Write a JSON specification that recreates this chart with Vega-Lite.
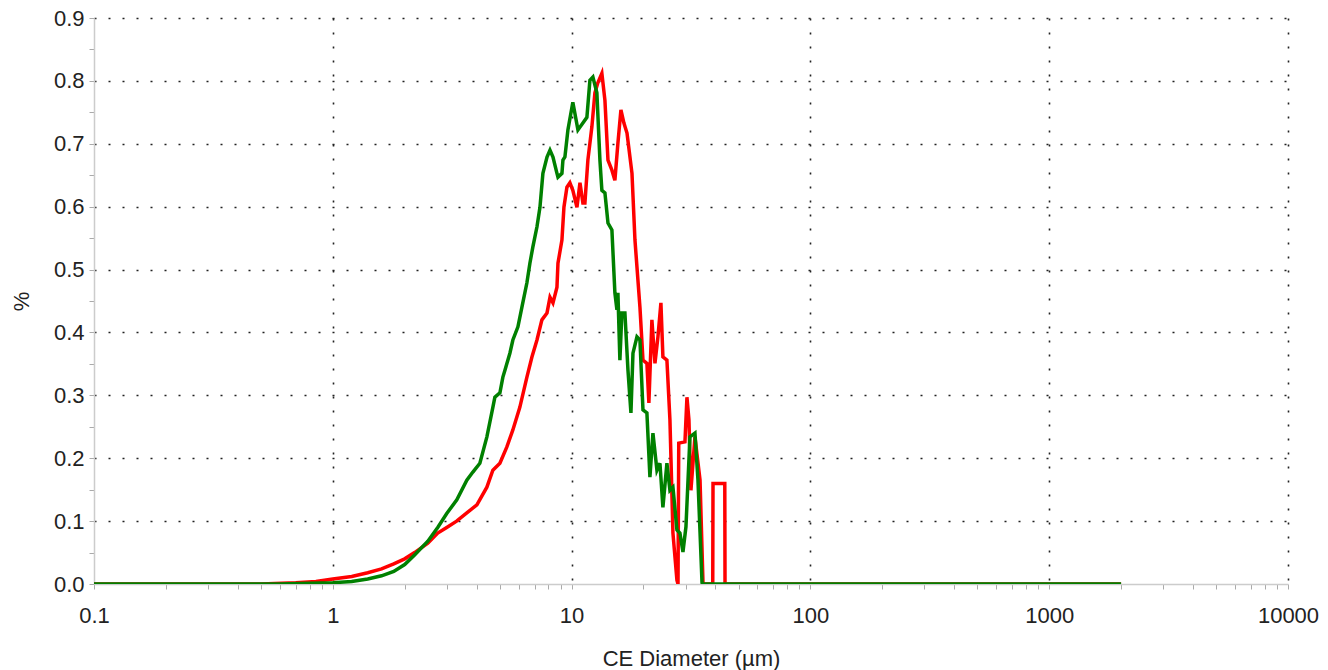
{
  "$schema": "https://vega.github.io/schema/vega-lite/v6.json",
  "width": 1194,
  "height": 566,
  "autosize": {"type": "none"},
  "padding": {"left": 94, "top": 18, "right": 40, "bottom": 86},
  "background": "white",
  "config": {
    "view": {"stroke": null},
    "font": "Liberation Sans"
  },
  "datasets": {
    "green": [
      {"d":0.1,"p":0},{"d":0.6,"p":0},{"d":0.8,"p":0.001},{"d":1.0,"p":0.002},{"d":1.2,"p":0.004},{"d":1.4,"p":0.008},{"d":1.6,"p":0.013},{"d":1.8,"p":0.02},{"d":2.0,"p":0.031},{"d":2.2,"p":0.046},{"d":2.5,"p":0.068},{"d":2.75,"p":0.09},{"d":3.0,"p":0.112},{"d":3.306,"p":0.134},{"d":3.641,"p":0.165},{"d":3.86,"p":0.178},{"d":4.129,"p":0.192},{"d":4.418,"p":0.234},{"d":4.68,"p":0.281},{"d":4.772,"p":0.297},{"d":5.009,"p":0.304},{"d":5.155,"p":0.329},{"d":5.258,"p":0.34},{"d":5.515,"p":0.367},{"d":5.676,"p":0.388},{"d":5.96,"p":0.409},{"d":6.191,"p":0.44},{"d":6.499,"p":0.479},{"d":6.689,"p":0.51},{"d":6.884,"p":0.536},{"d":7.161,"p":0.568},{"d":7.37,"p":0.599},{"d":7.583,"p":0.653},{"d":7.889,"p":0.679},{"d":8.119,"p":0.69},{"d":8.356,"p":0.679},{"d":8.684,"p":0.653},{"d":8.768,"p":0.647},{"d":9.11,"p":0.653},{"d":9.198,"p":0.674},{"d":9.376,"p":0.679},{"d":9.65,"p":0.722},{"d":10.12,"p":0.766},{"d":10.63,"p":0.722},{"d":11.15,"p":0.733},{"d":11.59,"p":0.742},{"d":11.93,"p":0.801},{"d":12.28,"p":0.806},{"d":12.76,"p":0.781},{"d":13.14,"p":0.674},{"d":13.39,"p":0.626},{"d":13.79,"p":0.622},{"d":14.2,"p":0.574},{"d":14.75,"p":0.563},{"d":15.18,"p":0.463},{"d":15.48,"p":0.436},{"d":15.63,"p":0.463},{"d":15.93,"p":0.356},{"d":16.24,"p":0.431},{"d":16.72,"p":0.431},{"d":17.22,"p":0.34},{"d":17.72,"p":0.272},{"d":18.07,"p":0.367},{"d":18.78,"p":0.393},{"d":19.33,"p":0.388},{"d":19.9,"p":0.277},{"d":20.67,"p":0.272},{"d":21.28,"p":0.17},{"d":21.91,"p":0.24},{"d":22.77,"p":0.181},{"d":23.44,"p":0.192},{"d":24.12,"p":0.122},{"d":25.07,"p":0.192},{"d":25.81,"p":0.149},{"d":26.57,"p":0.154},{"d":27.61,"p":0.086},{"d":28.42,"p":0.081},{"d":29.26,"p":0.051},{"d":30.12,"p":0.091},{"d":31.3,"p":0.234},{"d":32.85,"p":0.24},{"d":33.82,"p":0.165},{"d":35.17,"p":0.002},{"d":35.51,"p":0},{"d":2000,"p":0}
    ],
    "red": [
      {"d":0.1,"p":0},{"d":0.5,"p":0},{"d":0.7,"p":0.002},{"d":0.85,"p":0.004},{"d":1.0,"p":0.008},{"d":1.2,"p":0.012},{"d":1.4,"p":0.018},{"d":1.6,"p":0.024},{"d":1.8,"p":0.032},{"d":2.0,"p":0.04},{"d":2.2,"p":0.05},{"d":2.5,"p":0.065},{"d":2.75,"p":0.081},{"d":3.0,"p":0.09},{"d":3.3,"p":0.1},{"d":3.641,"p":0.113},{"d":4.012,"p":0.126},{"d":4.418,"p":0.154},{"d":4.68,"p":0.181},{"d":5.009,"p":0.192},{"d":5.357,"p":0.218},{"d":5.676,"p":0.245},{"d":6.07,"p":0.281},{"d":6.499,"p":0.329},{"d":6.821,"p":0.361},{"d":7.161,"p":0.388},{"d":7.51,"p":0.42},{"d":7.889,"p":0.431},{"d":8.119,"p":0.456},{"d":8.356,"p":0.447},{"d":8.684,"p":0.472},{"d":8.768,"p":0.51},{"d":9.11,"p":0.547},{"d":9.287,"p":0.599},{"d":9.558,"p":0.631},{"d":9.837,"p":0.638},{"d":10.12,"p":0.626},{"d":10.53,"p":0.599},{"d":10.84,"p":0.638},{"d":11.15,"p":0.606},{"d":11.37,"p":0.606},{"d":11.7,"p":0.674},{"d":12.16,"p":0.727},{"d":12.52,"p":0.781},{"d":12.88,"p":0.797},{"d":13.39,"p":0.812},{"d":13.79,"p":0.769},{"d":14.2,"p":0.674},{"d":14.75,"p":0.658},{"d":15.18,"p":0.642},{"d":15.63,"p":0.701},{"d":16.09,"p":0.754},{"d":16.56,"p":0.733},{"d":17.06,"p":0.717},{"d":17.9,"p":0.653},{"d":18.42,"p":0.547},{"d":19.33,"p":0.44},{"d":19.9,"p":0.356},{"d":20.67,"p":0.351},{"d":21.07,"p":0.288},{"d":21.69,"p":0.42},{"d":22.34,"p":0.351},{"d":22.99,"p":0.393},{"d":23.66,"p":0.447},{"d":24.12,"p":0.361},{"d":25.07,"p":0.356},{"d":25.81,"p":0.261},{"d":26.57,"p":0.081},{"d":27.61,"p":0.006},{"d":27.9,"p":0},{"d":28.1,"p":0.224},{"d":29.83,"p":0.226},{"d":30.41,"p":0.297},{"d":31.0,"p":0.261},{"d":31.6,"p":0.149},{"d":32.85,"p":0.234},{"d":34.5,"p":0.165},{"d":35.51,"p":0},{"d":39.0,"p":0},{"d":39.1,"p":0.16},{"d":43.8,"p":0.16},{"d":43.9,"p":0},{"d":2000,"p":0}
    ]
  },
  "encoding": {
    "x": {
      "field": "d", "type": "quantitative",
      "scale": {"type": "log", "domain": [0.1, 10000], "nice": false},
      "axis": {
        "title": "CE Diameter (µm)",
        "values": [0.1,0.2,0.3,0.4,0.5,0.6,0.7,0.8,0.9,1,2,3,4,5,6,7,8,9,10,20,30,40,50,60,70,80,90,100,200,300,400,500,600,700,800,900,1000,2000,3000,4000,5000,6000,7000,8000,9000,10000],
        "labelExpr": "abs(log(datum.value)/LN10 - round(log(datum.value)/LN10)) < 0.001 ? '' + datum.value : ''",
        "labelFont": "Liberation Sans", "labelFontSize": 22, "labelColor": "#222",
        "labelPadding": 16, "labelFlush": false, "labelOverlap": false,
        "titleFont": "Liberation Sans", "titleFontSize": 22, "titleFontWeight": "normal", "titleColor": "#222", "titlePadding": 22,
        "domainColor": "#cccccc", "domainWidth": 1.5,
        "tickColor": "#aaaaaa", "tickSize": 5,
        "grid": true, "gridColor": "#222", "gridDash": [2, 12], "gridWidth": 1.6,
        "gridOpacity": {"condition": {"test": "abs(log(datum.value)/LN10 - round(log(datum.value)/LN10)) > 0.001 || datum.value < 0.5", "value": 0}, "value": 1}
      }
    },
    "y": {
      "field": "p", "type": "quantitative",
      "scale": {"domain": [0, 0.9], "nice": false},
      "axis": {
        "title": "%",
        "values": [0,0.05,0.1,0.15,0.2,0.25,0.3,0.35,0.4,0.45,0.5,0.55,0.6,0.65,0.7,0.75,0.8,0.85,0.9],
        "labelExpr": "abs(datum.value*10 - round(datum.value*10)) < 0.001 ? format(datum.value, '.1f') : ''",
        "labelFont": "Liberation Sans", "labelFontSize": 22, "labelColor": "#222",
        "labelPadding": 5, "labelOverlap": false,
        "titleFont": "Liberation Sans", "titleFontSize": 22, "titleFontWeight": "normal", "titleColor": "#222", "titlePadding": 20,
        "domainColor": "#cccccc", "domainWidth": 1.5,
        "tickColor": "#aaaaaa", "tickSize": 5,
        "grid": true, "gridColor": "#222", "gridDash": [2, 12], "gridWidth": 1.6,
        "gridOpacity": {"condition": {"test": "abs(datum.value*10 - round(datum.value*10)) > 0.001 || datum.value < 0.05", "value": 0}, "value": 1}
      }
    }
  },
  "layer": [
    {"data": {"name": "red"}, "mark": {"type": "line", "color": "#ff0000", "strokeWidth": 3.5, "clip": true}},
    {"data": {"name": "green"}, "mark": {"type": "line", "color": "#008000", "strokeWidth": 3.5, "clip": true}}
  ]
}
